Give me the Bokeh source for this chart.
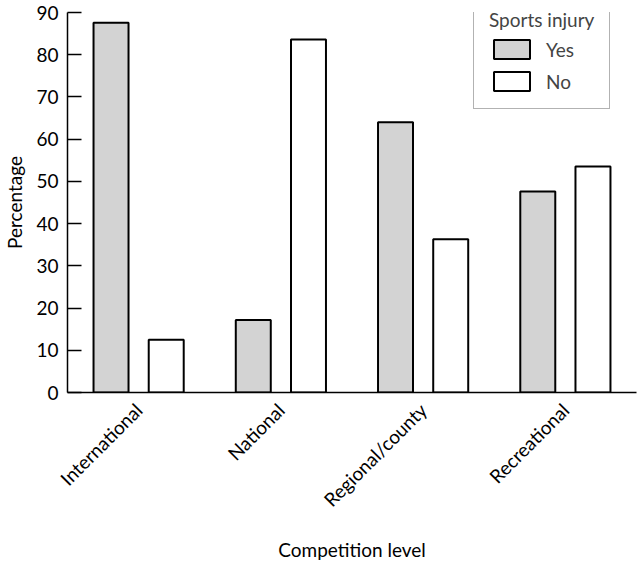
import math
from bokeh.plotting import figure
from bokeh.models import ColumnDataSource, FactorRange, Legend, LegendItem, Range1d
from bokeh.transform import dodge
from bokeh.embed import file_html
from bokeh.resources import INLINE

levels = ["International", "National", "Regional/county", "Recreational"]
injury_yes = [87.6, 17.2, 64.0, 47.6]
injury_no = [12.5, 83.6, 36.3, 53.5]
y_ticks = [0, 10, 20, 30, 40, 50, 60, 70, 80, 90]

FONT = "Lato"
source = ColumnDataSource(dict(level=levels, yes=injury_yes, no=injury_no))

p = figure(
    x_range=FactorRange(*levels),
    y_range=Range1d(0, 90),
    width=640, height=564,
    output_backend="svg", toolbar_location=None,
    min_border_left=67, min_border_top=12, min_border_right=4, min_border_bottom=171,
)
p.outline_line_color = None
p.xgrid.visible = False
p.ygrid.visible = False

r_yes = p.vbar(x=dodge("level", -0.194, range=p.x_range), top="yes", width=0.246,
               bottom=0, source=source, fill_color="#d3d3d3", line_color="black", line_width=2)
r_no = p.vbar(x=dodge("level", 0.194, range=p.x_range), top="no", width=0.246,
              bottom=0, source=source, fill_color="white", line_color="black", line_width=2)

# y axis
p.yaxis.ticker = y_ticks
p.yaxis.major_tick_in = 14
p.yaxis.major_tick_out = 0
p.yaxis.minor_tick_line_color = None
p.yaxis.major_label_standoff = 9
p.yaxis.axis_label = "Percentage"
p.yaxis.axis_label_standoff = 7
p.yaxis.axis_line_width = 1.5
p.yaxis.major_tick_line_width = 1.5

# x axis
p.xaxis.axis_label = "Competition level"
p.xaxis.major_label_orientation = math.pi / 4
p.xaxis.major_tick_line_color = None
p.xaxis.major_tick_in = 0
p.xaxis.major_tick_out = 0
p.xaxis.major_label_standoff = 14
p.xaxis.axis_label_standoff = 16
p.xaxis.axis_line_width = 1.5

for ax in (p.xaxis, p.yaxis):
    ax.major_label_text_font = FONT
    ax.major_label_text_font_size = "19px"
    ax.major_label_text_color = "black"
    ax.axis_label_text_font = FONT
    ax.axis_label_text_font_size = "19px"
    ax.axis_label_text_font_style = "normal"
    ax.axis_label_text_color = "black"
    ax.axis_line_color = "black"

legend = Legend(
    items=[LegendItem(label="Yes", renderers=[r_yes]), LegendItem(label="No", renderers=[r_no])],
    title="Sports injury",
    location=(406, 283),
    padding=15, spacing=8, glyph_width=45, glyph_height=24, label_standoff=12,
    title_standoff=6,
    border_line_color="#666666", border_line_width=1.5,
    label_text_font=FONT, label_text_font_size="19px",
    title_text_font=FONT, title_text_font_size="19px", title_text_font_style="normal",
    background_fill_alpha=1.0,
)
p.add_layout(legend, "center")

open("out.html", "w").write(file_html(p, INLINE))
